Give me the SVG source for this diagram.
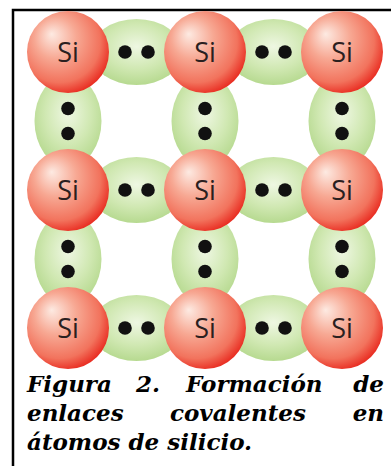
<svg xmlns="http://www.w3.org/2000/svg" width="391" height="466" viewBox="0 0 391 466">
  <defs>
    <radialGradient id="atomFill" cx="0.42" cy="0.4" r="0.64" fx="0.3" fy="0.28">
      <stop offset="0" stop-color="#fdeae2"/>
      <stop offset="0.4" stop-color="#f7a893"/>
      <stop offset="0.78" stop-color="#f2735d"/>
      <stop offset="1" stop-color="#e8261c"/>
    </radialGradient>
    <radialGradient id="bondFill" cx="0.5" cy="0.42" r="0.62">
      <stop offset="0" stop-color="#eef7e2"/>
      <stop offset="0.55" stop-color="#d0e8b2"/>
      <stop offset="1" stop-color="#b2d78a"/>
    </radialGradient>
  </defs>
  <style>
    .frame { stroke: #000; stroke-width: 2.5; fill: none; }
    .bond { fill: url(#bondFill); }
    .atom { fill: url(#atomFill); }
    .electron { fill: #111; }
  </style>

  <rect width="391" height="466" fill="#fff"/>
  <path class="frame" d="M13 466 V10 H391"/>

  <!-- shared electron pairs (bonds) -->
  <g id="bonds">
    <g id="bond-h-1-1"><ellipse class="bond" cx="136.5" cy="52" rx="46" ry="33"/><circle class="electron" cx="125" cy="52" r="6.8"/><circle class="electron" cx="148" cy="52" r="6.8"/></g>
    <g id="bond-h-1-2"><ellipse class="bond" cx="273.5" cy="52" rx="46" ry="33"/><circle class="electron" cx="262" cy="52" r="6.8"/><circle class="electron" cx="285" cy="52" r="6.8"/></g>
    <g id="bond-h-2-1"><ellipse class="bond" cx="136.5" cy="190" rx="46" ry="33"/><circle class="electron" cx="125" cy="190" r="6.8"/><circle class="electron" cx="148" cy="190" r="6.8"/></g>
    <g id="bond-h-2-2"><ellipse class="bond" cx="273.5" cy="190" rx="46" ry="33"/><circle class="electron" cx="262" cy="190" r="6.8"/><circle class="electron" cx="285" cy="190" r="6.8"/></g>
    <g id="bond-h-3-1"><ellipse class="bond" cx="136.5" cy="328" rx="46" ry="33"/><circle class="electron" cx="125" cy="328" r="6.8"/><circle class="electron" cx="148" cy="328" r="6.8"/></g>
    <g id="bond-h-3-2"><ellipse class="bond" cx="273.5" cy="328" rx="46" ry="33"/><circle class="electron" cx="262" cy="328" r="6.8"/><circle class="electron" cx="285" cy="328" r="6.8"/></g>

    <g id="bond-v-1-1"><ellipse class="bond" cx="68" cy="121" rx="33.5" ry="46"/><circle class="electron" cx="68" cy="108.5" r="6.8"/><circle class="electron" cx="68" cy="133.5" r="6.8"/></g>
    <g id="bond-v-1-2"><ellipse class="bond" cx="205" cy="121" rx="33.5" ry="46"/><circle class="electron" cx="205" cy="108.5" r="6.8"/><circle class="electron" cx="205" cy="133.5" r="6.8"/></g>
    <g id="bond-v-1-3"><ellipse class="bond" cx="342" cy="121" rx="33.5" ry="46"/><circle class="electron" cx="342" cy="108.5" r="6.8"/><circle class="electron" cx="342" cy="133.5" r="6.8"/></g>
    <g id="bond-v-2-1"><ellipse class="bond" cx="68" cy="259" rx="33.5" ry="46"/><circle class="electron" cx="68" cy="246.5" r="6.8"/><circle class="electron" cx="68" cy="271.5" r="6.8"/></g>
    <g id="bond-v-2-2"><ellipse class="bond" cx="205" cy="259" rx="33.5" ry="46"/><circle class="electron" cx="205" cy="246.5" r="6.8"/><circle class="electron" cx="205" cy="271.5" r="6.8"/></g>
    <g id="bond-v-2-3"><ellipse class="bond" cx="342" cy="259" rx="33.5" ry="46"/><circle class="electron" cx="342" cy="246.5" r="6.8"/><circle class="electron" cx="342" cy="271.5" r="6.8"/></g>
  </g>

  <!-- silicon atoms -->
  <g id="atoms" font-family="Open Sans, DejaVu Sans, sans-serif" font-size="27" fill="#2a2020" text-anchor="middle">
    <g id="si-1-1"><circle class="atom" cx="68" cy="52" r="41"/><text x="68" y="62">Si</text></g>
    <g id="si-1-2"><circle class="atom" cx="205" cy="52" r="41"/><text x="205" y="62">Si</text></g>
    <g id="si-1-3"><circle class="atom" cx="342" cy="52" r="41"/><text x="342" y="62">Si</text></g>
    <g id="si-2-1"><circle class="atom" cx="68" cy="190" r="41"/><text x="68" y="200">Si</text></g>
    <g id="si-2-2"><circle class="atom" cx="205" cy="190" r="41"/><text x="205" y="200">Si</text></g>
    <g id="si-2-3"><circle class="atom" cx="342" cy="190" r="41"/><text x="342" y="200">Si</text></g>
    <g id="si-3-1"><circle class="atom" cx="68" cy="328" r="41"/><text x="68" y="338">Si</text></g>
    <g id="si-3-2"><circle class="atom" cx="205" cy="328" r="41"/><text x="205" y="338">Si</text></g>
    <g id="si-3-3"><circle class="atom" cx="342" cy="328" r="41"/><text x="342" y="338">Si</text></g>
  </g>

  <!-- justified caption, words placed on a fixed measure -->
  <g id="caption" font-family="DejaVu Serif, serif" font-size="23" font-weight="bold" font-style="italic" fill="#000">
    <text x="27" y="392">Figura</text>
    <text x="136" y="392">2.</text>
    <text x="186" y="392">Formación</text>
    <text x="384" y="392" text-anchor="end">de</text>
    <text x="27" y="421">enlaces</text>
    <text x="170" y="421">covalentes</text>
    <text x="384" y="421" text-anchor="end">en</text>
    <text x="27" y="450">átomos de silicio.</text>
  </g>
</svg>
